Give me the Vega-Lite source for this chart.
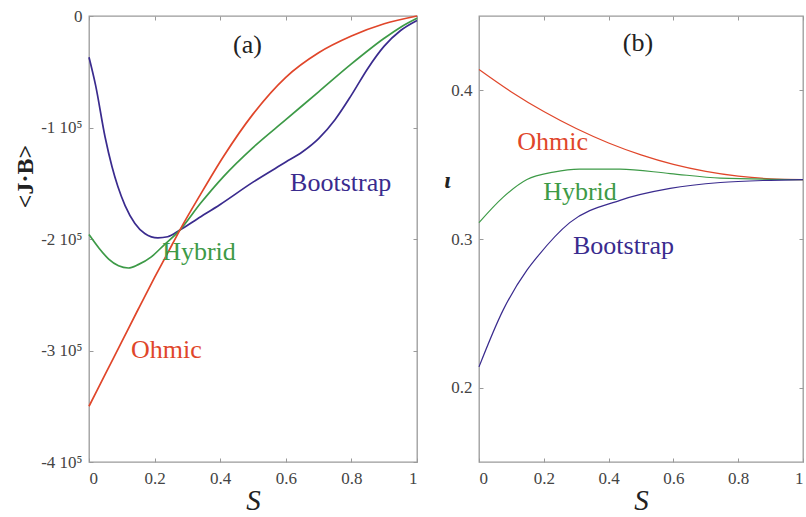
{
  "$schema": "https://vega.github.io/schema/vega-lite/v6.json",
  "background": "white",
  "padding": {"left": 12, "top": 6, "right": 2, "bottom": 0},
  "bounds": "flush",
  "spacing": 62,
  "datasets": {
    "a": [
      {"series": "Bootstrap", "s": 0, "v": -37000},
      {"series": "Bootstrap", "s": 0.02, "v": -62000},
      {"series": "Bootstrap", "s": 0.049, "v": -108500},
      {"series": "Bootstrap", "s": 0.07, "v": -135000},
      {"series": "Bootstrap", "s": 0.088, "v": -153000},
      {"series": "Bootstrap", "s": 0.11, "v": -170000},
      {"series": "Bootstrap", "s": 0.14, "v": -186000},
      {"series": "Bootstrap", "s": 0.17, "v": -195000},
      {"series": "Bootstrap", "s": 0.21, "v": -199000},
      {"series": "Bootstrap", "s": 0.24, "v": -198000},
      {"series": "Bootstrap", "s": 0.277, "v": -192000},
      {"series": "Bootstrap", "s": 0.33, "v": -182000},
      {"series": "Bootstrap", "s": 0.4, "v": -169000},
      {"series": "Bootstrap", "s": 0.5, "v": -149000},
      {"series": "Bootstrap", "s": 0.6, "v": -131000},
      {"series": "Bootstrap", "s": 0.65, "v": -122000},
      {"series": "Bootstrap", "s": 0.7, "v": -110000},
      {"series": "Bootstrap", "s": 0.75, "v": -93000},
      {"series": "Bootstrap", "s": 0.8, "v": -71000},
      {"series": "Bootstrap", "s": 0.85, "v": -47000},
      {"series": "Bootstrap", "s": 0.9, "v": -27000},
      {"series": "Bootstrap", "s": 0.95, "v": -13000},
      {"series": "Bootstrap", "s": 1.0, "v": -4000},
      {"series": "Hybrid", "s": 0, "v": -196000},
      {"series": "Hybrid", "s": 0.03, "v": -208000},
      {"series": "Hybrid", "s": 0.06, "v": -218000},
      {"series": "Hybrid", "s": 0.09, "v": -224000},
      {"series": "Hybrid", "s": 0.12, "v": -226000},
      {"series": "Hybrid", "s": 0.15, "v": -223000},
      {"series": "Hybrid", "s": 0.19, "v": -216000},
      {"series": "Hybrid", "s": 0.23, "v": -205000},
      {"series": "Hybrid", "s": 0.277, "v": -192000},
      {"series": "Hybrid", "s": 0.34, "v": -168000},
      {"series": "Hybrid", "s": 0.41, "v": -144000},
      {"series": "Hybrid", "s": 0.5, "v": -118000},
      {"series": "Hybrid", "s": 0.6, "v": -93000},
      {"series": "Hybrid", "s": 0.7, "v": -68000},
      {"series": "Hybrid", "s": 0.8, "v": -43000},
      {"series": "Hybrid", "s": 0.9, "v": -20000},
      {"series": "Hybrid", "s": 0.95, "v": -10000},
      {"series": "Hybrid", "s": 1.0, "v": -2000},
      {"series": "Ohmic", "s": 0, "v": -350000},
      {"series": "Ohmic", "s": 0.05, "v": -321000},
      {"series": "Ohmic", "s": 0.1, "v": -292000},
      {"series": "Ohmic", "s": 0.15, "v": -263000},
      {"series": "Ohmic", "s": 0.2, "v": -234500},
      {"series": "Ohmic", "s": 0.24, "v": -212500},
      {"series": "Ohmic", "s": 0.277, "v": -192000},
      {"series": "Ohmic", "s": 0.34, "v": -160000},
      {"series": "Ohmic", "s": 0.41, "v": -126000},
      {"series": "Ohmic", "s": 0.5, "v": -88000},
      {"series": "Ohmic", "s": 0.6, "v": -55000},
      {"series": "Ohmic", "s": 0.7, "v": -33000},
      {"series": "Ohmic", "s": 0.8, "v": -18000},
      {"series": "Ohmic", "s": 0.9, "v": -7000},
      {"series": "Ohmic", "s": 1.0, "v": 0}
    ],
    "alabels": [
      {"series": "panel", "text": "(a)", "s": 0.439, "v": -26000},
      {"series": "Bootstrap", "text": "Bootstrap", "s": 0.613, "v": -150000},
      {"series": "Hybrid", "text": "Hybrid", "s": 0.223, "v": -212000},
      {"series": "Ohmic", "text": "Ohmic", "s": 0.128, "v": -299500}
    ],
    "b": [
      {"series": "Ohmic", "s": 0, "v": 0.414},
      {"series": "Ohmic", "s": 0.1, "v": 0.3989},
      {"series": "Ohmic", "s": 0.2, "v": 0.3857},
      {"series": "Ohmic", "s": 0.3, "v": 0.3743},
      {"series": "Ohmic", "s": 0.4, "v": 0.3646},
      {"series": "Ohmic", "s": 0.5, "v": 0.3566},
      {"series": "Ohmic", "s": 0.6, "v": 0.3502},
      {"series": "Ohmic", "s": 0.7, "v": 0.3455},
      {"series": "Ohmic", "s": 0.8, "v": 0.3423},
      {"series": "Ohmic", "s": 0.9, "v": 0.3405},
      {"series": "Ohmic", "s": 1.0, "v": 0.34},
      {"series": "Hybrid", "s": 0, "v": 0.311},
      {"series": "Hybrid", "s": 0.074, "v": 0.328},
      {"series": "Hybrid", "s": 0.148, "v": 0.34},
      {"series": "Hybrid", "s": 0.23, "v": 0.345},
      {"series": "Hybrid", "s": 0.31, "v": 0.347},
      {"series": "Hybrid", "s": 0.435, "v": 0.347},
      {"series": "Hybrid", "s": 0.59, "v": 0.344},
      {"series": "Hybrid", "s": 0.745, "v": 0.341},
      {"series": "Hybrid", "s": 1.0, "v": 0.34},
      {"series": "Bootstrap", "s": 0, "v": 0.214},
      {"series": "Bootstrap", "s": 0.074, "v": 0.252},
      {"series": "Bootstrap", "s": 0.148, "v": 0.279},
      {"series": "Bootstrap", "s": 0.18, "v": 0.288},
      {"series": "Bootstrap", "s": 0.28, "v": 0.311},
      {"series": "Bootstrap", "s": 0.435, "v": 0.326},
      {"series": "Bootstrap", "s": 0.59, "v": 0.334},
      {"series": "Bootstrap", "s": 0.745, "v": 0.338},
      {"series": "Bootstrap", "s": 0.9, "v": 0.3395},
      {"series": "Bootstrap", "s": 1.0, "v": 0.34}
    ],
    "blabels": [
      {"series": "panel", "text": "(b)", "s": 0.444, "v": 0.432},
      {"series": "Ohmic", "text": "Ohmic", "s": 0.118, "v": 0.365},
      {"series": "Hybrid", "text": "Hybrid", "s": 0.198, "v": 0.3315},
      {"series": "Bootstrap", "text": "Bootstrap", "s": 0.29, "v": 0.295}
    ]
  },
  "hconcat": [
    {
      "width": 328,
      "height": 446,
      "resolve": {"axis": {"x": "independent", "y": "independent"}},
      "layer": [
        {
          "data": {"name": "a"},
          "mark": {"type": "line", "interpolate": "monotone", "strokeWidth": 1.7},
          "encoding": {
            "x": {"field": "s", "type": "quantitative", "scale": {"domain": [0, 1], "nice": false},
              "axis": {"values": [0, 0.2, 0.4, 0.6, 0.8, 1], "labelExpr": "datum.value == 0 ? '0' : datum.value == 1 ? '1' : format(datum.value, '.1f')", "title": "S", "titleFontStyle": "italic", "titleFontSize": 29, "titleFontWeight": "normal", "titlePadding": 0}},
            "y": {"field": "v", "type": "quantitative", "scale": {"domain": [-400000, 0], "nice": false},
              "axis": {"values": [-400000, -300000, -200000, -100000, 0], "labelExpr": "datum.value == 0 ? '0' : (datum.value / 100000) + ' 10⁵'", "title": "<J·B>", "titleFontSize": 24, "titleFontWeight": "bold", "titleY": 160, "titleX": -64, "titleBaseline": "middle", "titleAnchor": null}},
            "color": {"field": "series", "type": "nominal", "legend": null,
              "scale": {"domain": ["Ohmic", "Hybrid", "Bootstrap", "panel"], "range": ["#e0462a", "#3d9a47", "#3a2b8e", "#222222"]}},
            "detail": {"field": "series"}
          }
        },
        {
          "data": {"name": "alabels"},
          "mark": {"type": "text", "align": "left", "baseline": "middle", "font": "Liberation Serif", "fontSize": 26},
          "encoding": {
            "x": {"field": "s", "type": "quantitative", "axis": {"orient": "top", "labels": false, "title": null, "values": [0, 0.2, 0.4, 0.6, 0.8, 1]}},
            "y": {"field": "v", "type": "quantitative", "axis": {"orient": "right", "labels": false, "title": null, "values": [-400000, -300000, -200000, -100000, 0]}},
            "text": {"field": "text"},
            "color": {"field": "series", "type": "nominal", "legend": null}
          }
        }
      ]
    },
    {
      "width": 324,
      "height": 446,
      "resolve": {"axis": {"x": "independent", "y": "independent"}},
      "layer": [
        {
          "data": {"name": "b"},
          "mark": {"type": "line", "interpolate": "monotone", "strokeWidth": 1.2},
          "encoding": {
            "x": {"field": "s", "type": "quantitative", "scale": {"domain": [0, 1], "nice": false},
              "axis": {"values": [0, 0.2, 0.4, 0.6, 0.8, 1], "labelExpr": "datum.value == 0 ? '0' : datum.value == 1 ? '1' : format(datum.value, '.1f')", "title": "S", "titleFontStyle": "italic", "titleFontSize": 29, "titleFontWeight": "normal", "titlePadding": 0}},
            "y": {"field": "v", "type": "quantitative", "scale": {"domain": [0.15, 0.45], "nice": false},
              "axis": {"values": [0.2, 0.3, 0.4], "format": ".1f", "title": "ι", "titleAngle": 0, "titleFontSize": 24, "titleFontWeight": "bold", "titleFontStyle": "italic", "titleY": 164, "titleX": -32, "titleBaseline": "middle", "titleAlign": "center", "titleAnchor": null}},
            "color": {"field": "series", "type": "nominal", "legend": null,
              "scale": {"domain": ["Ohmic", "Hybrid", "Bootstrap", "panel"], "range": ["#e2783e", "#3d9a47", "#3a2b8e", "#222222"]}},
            "detail": {"field": "series"}
          }
        },
        {
          "data": {"name": "blabels"},
          "mark": {"type": "text", "align": "left", "baseline": "middle", "font": "Liberation Serif", "fontSize": 26},
          "encoding": {
            "x": {"field": "s", "type": "quantitative", "axis": {"orient": "top", "labels": false, "title": null, "values": [0, 0.2, 0.4, 0.6, 0.8, 1]}},
            "y": {"field": "v", "type": "quantitative", "axis": {"orient": "right", "labels": false, "title": null, "values": [0.2, 0.3, 0.4]}},
            "text": {"field": "text"},
            "color": {"field": "series", "type": "nominal", "legend": null}
          }
        }
      ]
    }
  ],
  "config": {
    "font": "Liberation Serif",
    "view": {"stroke": "#9a9a9a", "strokeWidth": 1.3},
    "axis": {
      "domain": false,
      "grid": false,
      "tickSize": -4,
      "tickColor": "#9a9a9a",
      "tickWidth": 1,
      "labelFont": "Liberation Serif",
      "labelFontSize": 17,
      "labelColor": "#444444",
      "titleFont": "Liberation Serif",
      "titleColor": "#222222"
    },
    "axisX": {"labelPadding": 12},
    "axisY": {"labelPadding": 11}
  }
}
